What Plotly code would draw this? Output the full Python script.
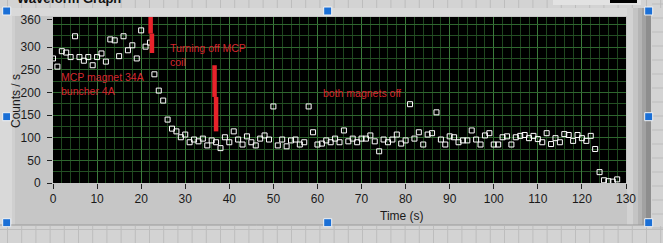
import plotly.graph_objects as go

# ---- data ----
time_s = list(range(0, 129))
counts = [275, 257, 291, 288, 278, 324, 278, 270, 278, 260,
          278, 286, 268, 317, 315, 280, 324, 293, 304, 275,
          337, 301, 310, 240, 204, 182, 140, 120, 114, 101,
          107, 90, 96, 92, 98, 83, 94, 90, 77, 101,
          90, 114, 96, 85, 103, 90, 83, 98, 105, 96,
          169, 83, 96, 81, 94, 96, 85, 90, 169, 112,
          85, 87, 94, 90, 98, 90, 116, 92, 98, 90,
          98, 98, 105, 92, 70, 96, 90, 96, 107, 87,
          94, 174, 98, 112, 85, 107, 110, 156, 96, 85,
          103, 101, 90, 94, 94, 116, 96, 85, 105, 110,
          85, 85, 101, 103, 85, 101, 104, 106, 99, 104,
          97, 90, 110, 86, 99, 90, 108, 106, 93, 106,
          99, 93, 104, 75, 24, 6, 4, 3, 8]

x_ticks = [0, 10, 20, 30, 40, 50, 60, 70, 80, 90, 100, 110, 120, 130]
y_ticks = [0, 50, 100, 150, 200, 250, 300, 360]
y_labels = ["0", "50", "100", "150", "200", "250", "300", "360"]

# red marker strokes drawn over the graph (data coords: x, y_top, y_bottom)
mark1_x = [22.15, 22.45]
mark1_y = [[372, 330], [330, 287]]
mark2_x = [36.65, 37.0]
mark2_y = [[260, 190], [190, 114]]

notes = [
    dict(text="Turning off MCP<br>coil", x=26.1, y=316),
    dict(text="MCP magnet 34A<br>buncher 4A", x=1.4, y=251),
    dict(text="both magnets off", x=60.9, y=216),
]

W, H = 663, 243
L, R, T, B = 53, 626, 17, 183


def px(p):
    return (p - L) / (R - L)


def py(p):
    return (B - p) / (B - T)


fig = go.Figure()
fig.add_trace(go.Scatter(
    x=time_s, y=counts, mode="markers",
    marker=dict(symbol="square-open", size=5, color="white",
                line=dict(color="white", width=1)),
    showlegend=False, hoverinfo="skip"))
# overlay axis only for horizontal grid
fig.add_trace(go.Scatter(x=[None], y=[None], yaxis="y2", showlegend=False))

shapes = []
panel = "#d3d3d3"
pgrid = "#bdbdbd"
frame = "#c6c6c6"
# panel background strips
shapes.append(dict(type="rect", xref="paper", yref="paper", x0=px(-5), x1=px(W + 5),
                   y0=py(-5), y1=py(8), fillcolor=panel, line_width=0, layer="below"))
shapes.append(dict(type="rect", xref="paper", yref="paper", x0=px(-5), x1=px(W + 5),
                   y0=py(225), y1=py(H + 5), fillcolor=panel, line_width=0, layer="below"))
shapes.append(dict(type="rect", xref="paper", yref="paper", x0=px(651), x1=px(W + 5),
                   y0=py(-5), y1=py(H + 5), fillcolor=panel, line_width=0, layer="below"))
# panel grid
g = 7.5
while g < W:
    shapes.append(dict(type="line", xref="paper", yref="paper", x0=px(g), x1=px(g),
                       y0=py(0), y1=py(8), line=dict(color=pgrid, width=1), layer="below"))
    shapes.append(dict(type="line", xref="paper", yref="paper", x0=px(g), x1=px(g),
                       y0=py(226), y1=py(H), line=dict(color=pgrid, width=1), layer="below"))
    g += 14.2
for gy in [229.5, 243.5]:
    shapes.append(dict(type="line", xref="paper", yref="paper", x0=px(0), x1=px(W),
                       y0=py(gy), y1=py(gy), line=dict(color=pgrid, width=1), layer="below"))
for gy in [4, 18, 32, 46, 60, 74, 88, 102, 116, 130, 144, 158, 172, 186, 200, 214, 228]:
    shapes.append(dict(type="line", xref="paper", yref="paper", x0=px(652), x1=px(W),
                       y0=py(gy), y1=py(gy), line=dict(color=pgrid, width=1), layer="below"))
# frame top light band and left bevel
shapes.append(dict(type="rect", xref="paper", yref="paper", x0=px(0), x1=px(650),
                   y0=py(8), y1=py(16), fillcolor="#d9d9d9", line_width=0, layer="below"))
shapes.append(dict(type="rect", xref="paper", yref="paper", x0=px(0), x1=px(12),
                   y0=py(8), y1=py(225), fillcolor="#d9d9d9", line_width=0, layer="below"))
shapes.append(dict(type="rect", xref="paper", yref="paper", x0=px(12), x1=px(15),
                   y0=py(16), y1=py(225), fillcolor="#cfcfcf", line_width=0, layer="below"))
# right bevel gradient
rb = [("#d2d2d2", 627, 633), ("#c4c4c4", 633, 638), ("#b4b4b4", 638, 642),
      ("#a2a2a2", 642, 646), ("#8e8e8e", 646, 651)]
for c, a, b in rb:
    shapes.append(dict(type="rect", xref="paper", yref="paper", x0=px(a), x1=px(b),
                       y0=py(8), y1=py(225), fillcolor=c, line_width=0, layer="below"))
shapes.append(dict(type="line", xref="paper", yref="paper", x0=px(0), x1=px(651),
                   y0=py(225), y1=py(225), line=dict(color="#9a9a9a", width=1), layer="below"))
# partially visible plot legend at the top right
shapes.append(dict(type="rect", xref="paper", yref="paper", x0=px(553), x1=px(641),
                   y0=py(-3), y1=py(5), fillcolor="#e2e2e2", line_width=0, layer="below"))
shapes.append(dict(type="rect", xref="paper", yref="paper", x0=px(610), x1=px(637),
                   y0=py(-3), y1=py(3), fillcolor="#000000", line_width=0, layer="below"))

# red strokes
for xv, (y0, y1) in zip(mark1_x + mark2_x, mark1_y + mark2_y):
    shapes.append(dict(type="line", xref="x", yref="y", x0=xv, x1=xv, y0=y0, y1=y1,
                       line=dict(color="#e8232b", width=4.5), layer="above"))

# blue selection handles
for hx in [6.7, 327.7, 648.7]:
    for hy in [11, 116.7, 222.7]:
        if hx == 327.7 and hy == 116.7:
            continue
        shapes.append(dict(type="rect", xref="paper", yref="paper",
                           x0=px(hx - 4), x1=px(hx + 4), y0=py(hy + 4), y1=py(hy - 4),
                           fillcolor="#1a6fd6", line=dict(color="#f4f4f4", width=1),
                           layer="above"))

annotations = []
for n in notes:
    annotations.append(dict(text=n["text"], x=n["x"], y=n["y"], xref="x", yref="y",
                            xanchor="left", yanchor="top", align="left", showarrow=False,
                            font=dict(family="Liberation Sans", size=10.5, color="#d6262e")))
annotations.append(dict(text="Time (s)", x=px(402), y=py(216), xref="paper", yref="paper",
                        showarrow=False, xanchor="center", yanchor="middle",
                        font=dict(family="Liberation Sans", size=12, color="#1a1a1a")))
annotations.append(dict(text="Counts / s", x=px(16), y=py(101), xref="paper", yref="paper",
                        showarrow=False, textangle=-90, xanchor="center", yanchor="middle",
                        font=dict(family="Liberation Sans", size=12, color="#1a1a1a")))
annotations.append(dict(text="<b>Waveform Graph</b>", x=px(15), y=py(-1), xref="paper",
                        yref="paper", showarrow=False, xanchor="left", yanchor="middle",
                        font=dict(family="Liberation Sans", size=13, color="#111111")))

fig.update_layout(
    width=W, height=H,
    margin=dict(l=L, r=W - R, t=T, b=H - B),
    paper_bgcolor=frame, plot_bgcolor="black",
    showlegend=False,
    shapes=shapes, annotations=annotations,
    xaxis=dict(range=[0, 130], tickvals=x_ticks, ticks="outside", ticklen=5,
               tickcolor="#222", showline=False, zeroline=False,
               showgrid=True, gridcolor="#3b7b3b", gridwidth=1,
               minor=dict(dtick=2, showgrid=True, gridcolor="#1f461f", gridwidth=1),
               tickfont=dict(family="Liberation Sans", size=12, color="#1a1a1a"),
               fixedrange=True),
    yaxis=dict(range=[0, 366.5], tickvals=y_ticks, ticktext=y_labels, ticks="outside",
               ticklen=5, tickcolor="#222", showgrid=False, zeroline=False, showline=False,
               tickfont=dict(family="Liberation Sans", size=12, color="#1a1a1a"),
               ticklabelstandoff=4, fixedrange=True),
    yaxis2=dict(range=[0, 366.5], overlaying="y", side="left", dtick=50,
                showticklabels=False, ticks="", showgrid=True, gridcolor="#2f662f",
                zeroline=False,
                minor=dict(dtick=25, showgrid=True, gridcolor="#244f24"),
                fixedrange=True),
)

fig.write_html("out.html")
